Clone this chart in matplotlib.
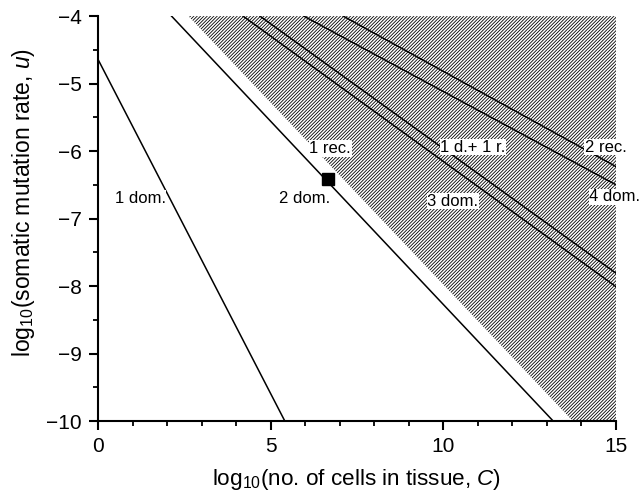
import matplotlib
matplotlib.use("Agg")
import matplotlib.pyplot as plt
from matplotlib.ticker import MultipleLocator

plt.rcParams["font.family"] = ["Liberation Sans", "DejaVu Sans"]
plt.rcParams["mathtext.fontset"] = "custom"
plt.rcParams["mathtext.rm"] = "Liberation Sans"
plt.rcParams["mathtext.it"] = "Liberation Sans:italic"
plt.rcParams["hatch.linewidth"] = 0.6

# threshold lines: log10(C) and log10(u) at both ends
line_x0 = [0.0, 2.13, 4.20, 4.69, 5.96, 7.10]
line_y0 = [-4.64, -4.0, -4.0, -4.0, -4.0, -4.0]
line_x1 = [5.41, 13.18, 15.0, 15.0, 15.0, 15.0]
line_y1 = [-10.0, -10.0, -8.01, -7.81, -6.50, -6.23]

# edge of the hatched region (1 rec.)
rec_x = [2.62, 13.75, 15.0]
rec_y = [-4.0, -10.0, -10.0]

# observed point
pt_x = [6.65]
pt_y = [-6.41]

label_text = ["1 dom.", "2 dom.", "1 rec.", "3 dom.", "1 d.+ 1 r.", "4 dom.", "2 rec."]
label_x = [1.22, 5.97, 6.72, 10.28, 10.86, 14.97, 14.71]
label_y = [-6.70, -6.70, -5.96, -6.74, -5.94, -6.68, -5.94]

fig = plt.figure(figsize=(6.42, 5.03), dpi=100)
ax = fig.add_axes([0.1526, 0.163, 0.8069, 0.805])

# hatched zone right of the 1 rec. edge
ax.fill_between(rec_x, rec_y, [-4.0] * len(rec_x), facecolor="white",
                edgecolor="black", hatch="//////////", linewidth=0)

for x0, y0, x1, y1 in zip(line_x0, line_y0, line_x1, line_y1):
    ax.plot([x0, x1], [y0, y1], color="black", lw=1.1)

ax.plot(pt_x, pt_y, "s", color="black", ms=8)

for t, x, y in zip(label_text, label_x, label_y):
    ax.text(x, y, t, ha="center", va="center", fontsize=12, clip_on=False,
            bbox=dict(fc="white", ec="none", pad=0.5))

ax.set_xlim(0, 15)
ax.set_ylim(-10, -4)
ax.xaxis.set_major_locator(MultipleLocator(5))
ax.xaxis.set_minor_locator(MultipleLocator(1))
ax.yaxis.set_minor_locator(MultipleLocator(0.5))
ax.set_yticks(range(-10, -3))
ax.set_yticklabels(["\u2212" + str(abs(v)) for v in range(-10, -3)])

for s in ("top", "right"):
    ax.spines[s].set_visible(False)
for s in ("left", "bottom"):
    ax.spines[s].set_linewidth(1.5)
ax.tick_params(which="major", direction="out", length=6.5, width=1.5, labelsize=15, pad=5)
ax.tick_params(which="minor", direction="out", length=3.5, width=1.3)

ax.set_xlabel("log$_{10}$(no. of cells in tissue, $C$)", fontsize=16.2, labelpad=8)
ax.set_ylabel("log$_{10}$(somatic mutation rate, $u$)", fontsize=16.5)
ax.yaxis.set_label_coords(-0.118, 0.54)

fig.savefig("out.png", dpi=100)
